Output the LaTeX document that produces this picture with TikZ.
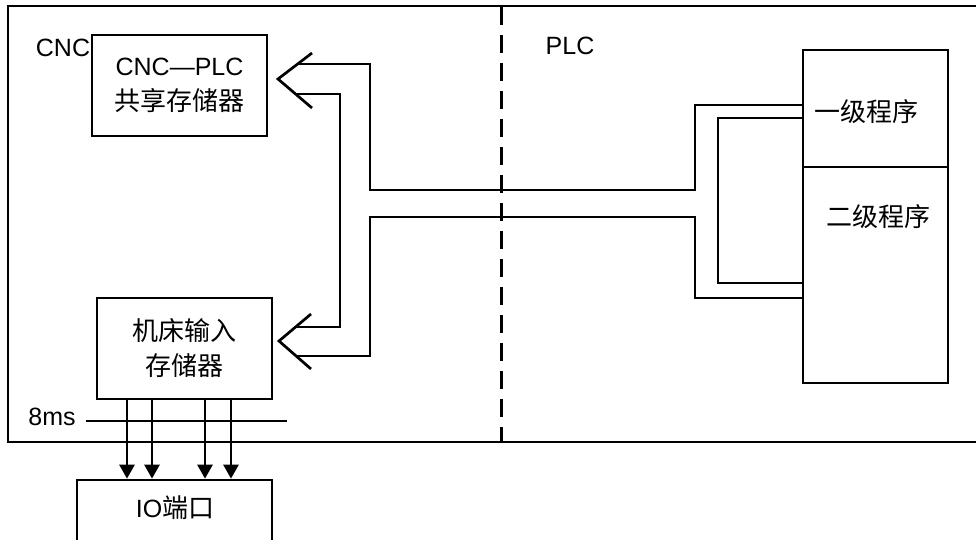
\documentclass[tikz,border=0pt]{standalone}
\usepackage{fontspec}
\setmainfont{Liberation Sans}
\newfontfamily\cjk{Noto Sans CJK SC}[Scale=1.04]
\usetikzlibrary{arrows.meta}
\begin{document}
\begin{tikzpicture}[x=1pt,y=-1pt,
  lw/.style={line width=2.7pt},
  box/.style={draw,lw,rectangle,inner sep=0pt,align=center,font=\fontsize{25}{35}\selectfont},
  txt/.style={inner sep=0pt,font=\fontsize{25}{30}\selectfont},
  down/.style={lw,-{Triangle[length=14pt,width=15pt]}}]
\useasboundingbox (0,0) rectangle (976,539);
\clip (0,0) rectangle (976,539);
% outer frame and divider
\draw[lw] (8,6) rectangle (1000,442);
\draw[line width=3pt,dash pattern=on 18pt off 10pt] (501,7) -- (501,442);
% labels
\node[txt] (cnc) at (63,48) {CNC};
\node[txt] (plc) at (570,46) {PLC};
% boxes
\node[box,minimum width=175pt,minimum height=101pt] (shm) at (179.5,85.5) {CNC—PLC\\{\cjk 共享存储器}};
\node[box,minimum width=175pt,minimum height=101pt] (mim) at (184.5,348.5) {{\cjk 机床输入}\\{\cjk 存储器}};
\node[box,minimum width=195pt,minimum height=90pt] (io) at (174.5,525) {};
\node[txt] (iot) at (175,508) {IO{\cjk 端口}};
\node[box,minimum width=145pt,minimum height=117pt] (p1) at (875.5,108.5) {};
\node[box,minimum width=145pt,minimum height=216pt] (p2) at (875.5,275) {};
\node[txt] (lv1) at (866,112) {\cjk 一级程序};
\node[txt] (lv2) at (878,217) {\cjk 二级程序};
% 8ms line
\node[txt] (ms) at (52,417) {8ms};
\coordinate (msend) at (287,421);
\draw[lw] ([xshift=10pt]ms.east |- msend) -- (msend);
% down arrows
\foreach \x [count=\i] in {127,152,205,231} {
  \coordinate (dx\i) at (\x,0);
  \draw[down] (mim.south -| dx\i) -- (io.north -| dx\i);
}
% bus arrowheads
\coordinate (tip1) at (278,79);
\coordinate (tip2) at (279,341);
\draw[lw] (312,53) -- (tip1) -- (312,108);
\draw[lw] (311,314) -- (tip2) -- (311,369);
% bus lines
\coordinate (y105) at (0,105);
\coordinate (y118) at (0,118);
\coordinate (y283) at (0,283);
\coordinate (y298) at (0,298);
\draw[lw] (297.6,64) -| (370,190) -- (695,190) |- (p1.west |- y105);
\draw[lw] (295.6,94) -| (340,327) -- (295.6,327);
\draw[lw] (296.1,356) -| (370,217) -- (695,217) |- (p2.west |- y298);
\draw[lw] (p1.west |- y118) -| (718,283) -- (p2.west |- y283);
\end{tikzpicture}
\end{document}
